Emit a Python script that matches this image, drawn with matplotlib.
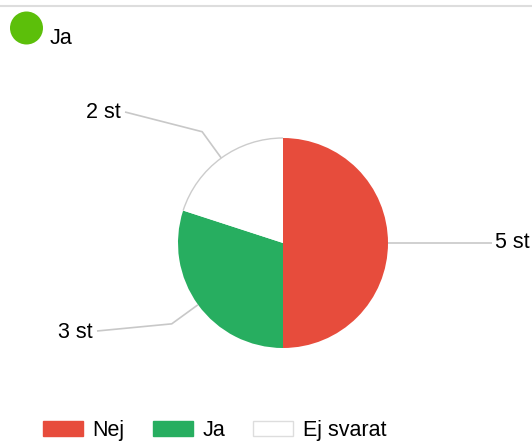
import numpy as np
import matplotlib
matplotlib.use('Agg')
import matplotlib.pyplot as plt
from matplotlib.patches import Patch, Circle, Arc

# Datos del gráfico
kategorier = ['Nej', 'Ja', 'Ej svarat']
antal = [5, 3, 2]
etiketter = ['5 st', '3 st', '2 st']
farger = ['#E74C3C', '#27AE60', '#FFFFFF']
rubrik = 'Ja'

W, H = 532, 441
FS = 15.5
plt.rcParams['font.family'] = ['Liberation Sans', 'DejaVu Sans']

fig = plt.figure(figsize=(W / 100, H / 100), dpi=100)
ax = fig.add_axes([0, 0, 1, 1])

# Torta (coordenadas en píxeles, y hacia arriba)
cx, cy, R = 283, H - 243, 105
wedges, _ = ax.pie(antal, colors=farger, startangle=90, counterclock=False,
                   center=(cx, cy), radius=R, wedgeprops=dict(linewidth=0))
# borde gris solo en el arco del sector blanco
wb = wedges[2]
ax.add_patch(Arc((cx, cy), 2 * R, 2 * R, theta1=wb.theta1, theta2=wb.theta2,
                 color='#cccccc', lw=1.0, zorder=3))

# Líneas guía y etiquetas (extremo de línea, px desde arriba)
fin_linea = [(492, 243), (97, 331), (125, 112)]
for w, lab, (lx, ly) in zip(wedges, etiketter, fin_linea):
    mid = np.deg2rad((w.theta1 + w.theta2) / 2)
    x0, y0 = cx + R * np.cos(mid), cy + R * np.sin(mid)
    xs, ys = [x0], [y0]
    if abs(np.cos(mid)) < 0.99:
        xs.append(cx + 1.31 * R * np.cos(mid))
        ys.append(cy + 1.31 * R * np.sin(mid))
    xs.append(lx)
    ys.append(H - ly)
    ax.plot(xs, ys, color='#c8c8c8', lw=1.2, solid_capstyle='butt', zorder=1)
    if lx > cx:
        ax.text(lx + 3, H - ly, lab, ha='left', va='center', fontsize=FS)
    else:
        ax.text(lx - 4, H - ly - 1, lab, ha='right', va='center', fontsize=FS)

# Encabezado
ax.add_patch(Circle((26.5, H - 28), 16.5, color='#5cbf0a', lw=0))
ax.text(50, H - 39, rubrik, ha='left', va='center', fontsize=FS)
ax.axhline(H - 6, color='#dddddd', lw=1.5)

ax.set_xlim(0, W)
ax.set_ylim(0, H)
ax.axis('off')

# Leyenda
handles = [Patch(facecolor=c, edgecolor=('#dddddd' if c == '#FFFFFF' else c), lw=1, label=k)
           for c, k in zip(farger, kategorier)]
fig.legend(handles=handles, loc='center left', bbox_to_anchor=(43 / W, 1 - 430.5 / H),
           ncol=3, frameon=False, fontsize=FS, handlelength=1.86, handleheight=0.74,
           handletextpad=0.45, columnspacing=1.3, borderpad=0, borderaxespad=0)

fig.savefig('out.png', dpi=100)
